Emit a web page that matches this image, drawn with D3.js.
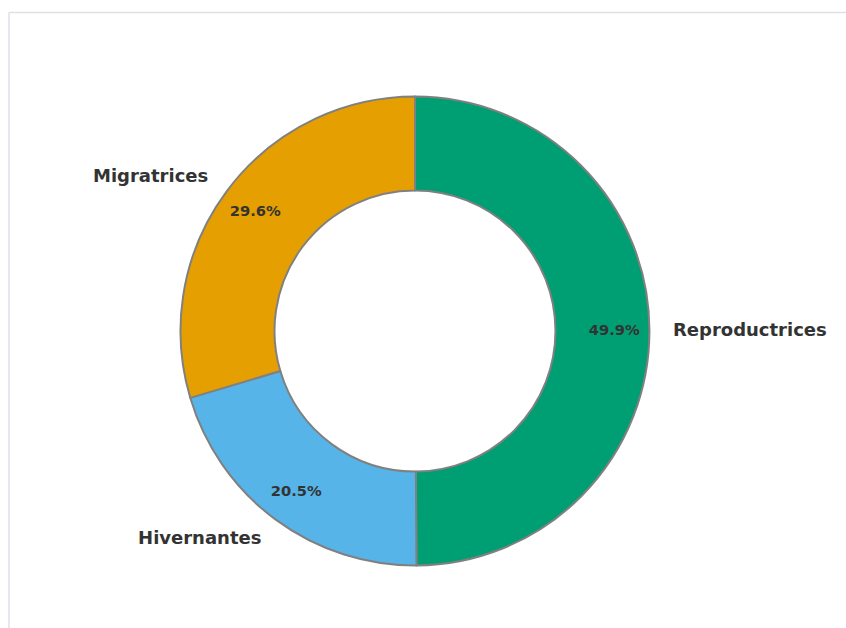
<!DOCTYPE html>
<html><head><meta charset="utf-8">
<script src="https://cdn.jsdelivr.net/npm/d3@7"></script>
<style>html,body{margin:0;padding:0;background:#fff;}svg{display:block;}</style>
</head><body>
<svg id="chart" width="846" height="628"></svg>
<script>
const categories = ["Reproductrices", "Hivernantes", "Migratrices"];
const values = [49.9, 20.5, 29.6];
const colors = ["#009E73", "#56B4E9", "#E69F00"];

const W = 846, H = 628;
const cx = 415, cy = 331, R = 234.5, r = 140.5;
const svg = d3.select("#chart");

// figure frame (top and left edges)
svg.append("line").attr("x1", 9).attr("x2", W).attr("y1", 12.5).attr("y2", 12.5)
  .attr("stroke", "#dde1e6").attr("stroke-width", 1.5);
svg.append("line").attr("x1", 9).attr("x2", 9).attr("y1", 12.5).attr("y2", H)
  .attr("stroke", "#dde1e6").attr("stroke-width", 1.5);

const data = categories.map((c, i) => ({ cat: c, value: values[i], color: colors[i] }));
const total = d3.sum(values);
const pie = d3.pie().value(d => d.value).sort(null).startAngle(0).endAngle(2 * Math.PI);
const arcs = pie(data);
const arc = d3.arc().innerRadius(r).outerRadius(R);

const g = svg.append("g").attr("transform", `translate(${cx},${cy})`);
g.selectAll("path.slice").data(arcs).join("path")
  .attr("class", "slice")
  .attr("d", arc)
  .attr("fill", d => d.data.color)
  .attr("stroke", "#808080")
  .attr("stroke-width", 2)
  .attr("stroke-linejoin", "round");

const mid = d => (d.startAngle + d.endAngle) / 2;

// percentage labels
g.selectAll("text.pct").data(arcs).join("text")
  .attr("class", "pct")
  .attr("x", d => Math.sin(mid(d)) * R * 0.85)
  .attr("y", d => -Math.cos(mid(d)) * R * 0.85 - 1)
  .attr("text-anchor", "middle")
  .attr("dominant-baseline", "central")
  .attr("font-family", "DejaVu Sans")
  .attr("font-weight", "bold")
  .attr("font-size", 14.7)
  .attr("fill", "#333333")
  .text(d => (d.data.value / total * 100).toFixed(1) + "%");

// category labels
g.selectAll("text.lab").data(arcs).join("text")
  .attr("class", "lab")
  .attr("x", d => Math.sin(mid(d)) * R * 1.1)
  .attr("y", d => -Math.cos(mid(d)) * R * 1.1 - 1)
  .attr("text-anchor", d => Math.sin(mid(d)) >= 0 ? "start" : "end")
  .attr("dominant-baseline", "central")
  .attr("font-family", "DejaVu Sans")
  .attr("font-weight", "bold")
  .attr("font-size", 18)
  .attr("fill", "#333333")
  .text(d => d.data.cat);
</script>
</body></html>
